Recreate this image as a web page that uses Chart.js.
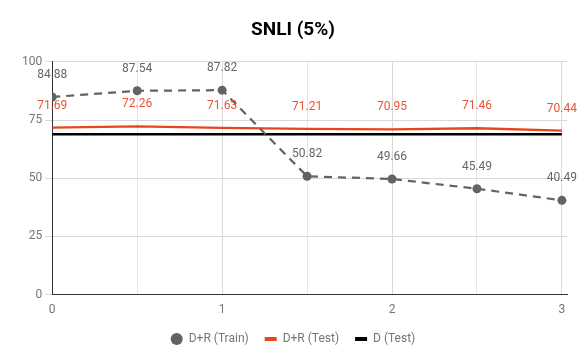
<!DOCTYPE html>
<html>
<head>
<meta charset="utf-8">
<script src="https://cdn.jsdelivr.net/npm/chart.js@4/dist/chart.umd.min.js"></script>
<style>
html,body{margin:0;padding:0;background:#fff;}
#wrap{width:586px;height:363px;position:relative;}
</style>
</head>
<body>
<div id="wrap"><canvas id="c" width="586" height="363"></canvas></div>
<script>
const xValues = [0, 0.5, 1, 1.5, 2, 2.5, 3];
const trainDR = [84.88, 87.54, 87.82, 50.82, 49.66, 45.49, 40.49];
const testDR = [71.69, 72.26, 71.63, 71.21, 70.95, 71.46, 70.44];
const testD = [68.9, 68.9, 68.9, 68.9, 68.9, 68.9, 68.9];
const seriesNames = ['D+R (Train)', 'D+R (Test)', 'D (Test)'];
const xTickValues = [0, 0.5, 1, 1.5, 2, 2.5, 3];
const yTickValues = [0, 25, 50, 75, 100];

const toPts = arr => arr.map((v, i) => ({x: xValues[i], y: v}));

const GRAY = '#636363';
const RED = '#e6461c';
const RED_TXT = '#ea5232';

const labelPlugin = {
  id: 'valueLabels',
  afterDatasetsDraw(chart) {
    const ctx = chart.ctx;
    chart.data.datasets.forEach((ds, di) => {
      if (!ds.valueLabelColor) return;
      const meta = chart.getDatasetMeta(di);
      ctx.save();
      ctx.font = '12px Roboto';
      ctx.fillStyle = ds.valueLabelColor;
      ctx.textAlign = 'center';
      ctx.textBaseline = 'middle';
      meta.data.forEach((el, i) => {
        ctx.fillText(ds.data[i].y.toFixed(2), el.x, el.y - 22);
      });
      ctx.restore();
    });
  }
};

Chart.defaults.font.family = 'Roboto';
Chart.defaults.color = '#757575';

new Chart(document.getElementById('c'), {
  type: 'line',
  data: {
    datasets: [
      {
        label: seriesNames[0],
        data: toPts(trainDR),
        borderColor: GRAY,
        backgroundColor: GRAY,
        borderWidth: 2.2,
        borderDash: [8, 6],
        pointRadius: 4.5,
        pointHoverRadius: 4.5,
        pointBackgroundColor: GRAY,
        pointBorderWidth: 0,
        valueLabelColor: '#666666'
      },
      {
        label: seriesNames[1],
        data: toPts(testDR),
        borderColor: RED,
        backgroundColor: RED,
        borderWidth: 2.3,
        pointRadius: 0,
        valueLabelColor: RED_TXT
      },
      {
        label: seriesNames[2],
        data: toPts(testD),
        borderColor: '#000000',
        backgroundColor: '#000000',
        borderWidth: 2.5,
        pointRadius: 0
      }
    ]
  },
  options: {
    responsive: false,
    animation: false,
    layout: {padding: {left: 19, right: 19, top: 0, bottom: 8}},
    plugins: {
      title: {
        display: true,
        text: 'SNLI (5%)',
        color: '#000',
        font: {family: 'Roboto', size: 19, weight: 'bold'},
        padding: {top: 19, bottom: 20}
      },
      legend: {
        position: 'bottom',
        labels: {
          usePointStyle: true,
          boxHeight: 8.5,
          padding: 16,
          color: '#757575',
          font: {family: 'Roboto', size: 12},
          generateLabels(chart) {
            return chart.data.datasets.map((ds, i) => ({
              text: ds.label,
              datasetIndex: i,
              fillStyle: ds.borderColor,
              strokeStyle: ds.borderColor,
              lineWidth: i === 0 ? 0 : 4,
              pointStyle: i === 0 ? 'circle' : 'line',
              fontColor: '#757575'
            }));
          }
        }
      },
      tooltip: {enabled: false}
    },
    scales: {
      x: {
        type: 'linear',
        min: 0,
        max: 3.03,
        afterBuildTicks(scale) {
          scale.ticks = xTickValues.map(v => ({value: v}));
        },
        afterFit(scale) {
          scale.height -= 8;
        },
        ticks: {
          color: '#757575',
          font: {size: 12},
          padding: 8,
          maxRotation: 0,
          autoSkip: false,
          callback: v => (Number.isInteger(v) ? String(v) : '')
        },
        grid: {
          drawTicks: false,
          color: ctx => (ctx.tick && Number.isInteger(ctx.tick.value) ? '#d9d9d9' : '#e6e6e6')
        },
        border: {color: '#333', width: 1}
      },
      y: {
        min: 0,
        max: 100,
        afterBuildTicks(scale) {
          scale.ticks = yTickValues.map(v => ({value: v}));
        },
        ticks: {
          color: '#757575',
          font: {size: 12},
          padding: 3
        },
        grid: {
          color: '#d9d9d9',
          tickLength: 7
        },
        border: {color: '#333', width: 1}
      }
    }
  },
  plugins: [labelPlugin]
});
</script>
</body>
</html>
